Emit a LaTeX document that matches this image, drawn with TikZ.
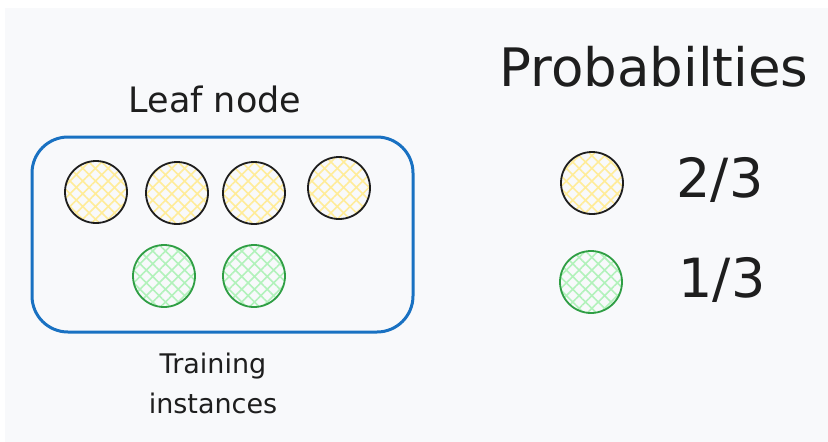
\documentclass[tikz,border=0pt]{standalone}
\usepackage{fontspec}
\setmainfont{DejaVu Sans}
\usetikzlibrary{patterns.meta}
\definecolor{paper}{HTML}{F8F9FB}
\definecolor{frameblue}{HTML}{1971C2}
\definecolor{ink}{HTML}{1E1E1E}
\definecolor{yellowfill}{HTML}{FFEC99}
\definecolor{greenfill}{HTML}{B2F2BB}
\definecolor{greenline}{HTML}{2F9E44}
\tikzset{
  ball/.style={circle, minimum size=62pt, inner sep=0pt, line width=1.8pt},
  hatched/.style={pattern={Hatch[angle=45,distance=9pt,line width=1.6pt]}},
  yball/.style={ball, draw=ink, hatched, pattern color=yellowfill},
  gball/.style={ball, draw=greenline, hatched, pattern color=greenfill},
  label/.style={text=ink, inner sep=0pt}
}
\begin{document}
\begin{tikzpicture}[x=1pt,y=-1pt]
  \useasboundingbox (0,0) rectangle (828,442);
  \fill[paper] (5,8) rectangle (828,442);

  % leaf node container
  \node[draw=frameblue, line width=3pt, rounded corners=36pt, minimum width=381pt, minimum height=195pt, inner sep=0pt] (leaf) at (222.5,234.5) {};
  \node[label, font=\fontsize{35}{40}\selectfont] (leaftitle) at (215,99) {Leaf node};

  % training instances
  \node[yball] (y1) at (96,192) {};
  \node[yball] (y2) at (177,193) {};
  \node[yball] (y3) at (254,193) {};
  \node[yball] (y4) at (339,188) {};
  \node[gball] (g1) at (164,276) {};
  \node[gball] (g2) at (254,276) {};
  \node[label, font=\fontsize{27}{40}\selectfont, align=center] (train) at (213,383) {Training\\instances};

  % probabilities legend
  \node[label, font=\fontsize{53}{60}\selectfont] (probtitle) at (654,67) {Probabilties};
  \node[yball] (ly) at (592,183) {};
  \node[gball] (lg) at (591,282) {};
  \node[label, font=\fontsize{54}{60}\selectfont] (py) at (720,180) {2/3};
  \node[label, font=\fontsize{54}{60}\selectfont] (pg) at (722,280) {1/3};
\end{tikzpicture}
\end{document}
